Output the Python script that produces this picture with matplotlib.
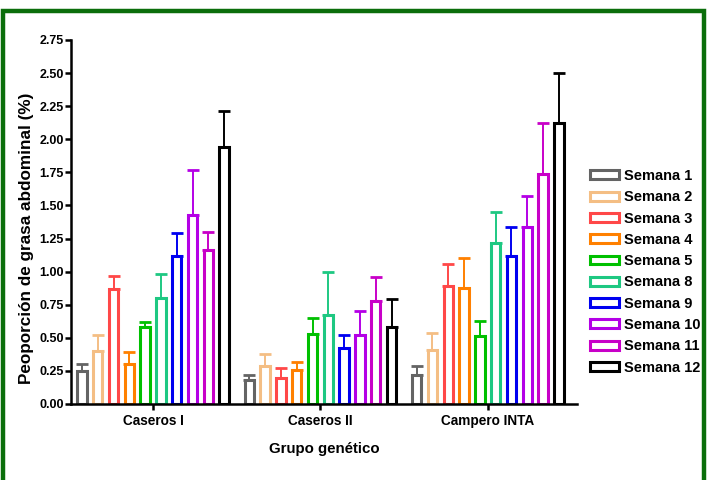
import matplotlib
matplotlib.use('Agg')
import matplotlib.pyplot as plt
import matplotlib as mpl
from matplotlib.patches import Patch, Rectangle

mpl.rcParams['font.family'] = ['Liberation Sans', 'DejaVu Sans']
mpl.rcParams['font.weight'] = 'bold'

groups = ['Caseros I', 'Caseros II', 'Campero INTA']
weeks = ['Semana 1', 'Semana 2', 'Semana 3', 'Semana 4', 'Semana 5',
         'Semana 8', 'Semana 9', 'Semana 10', 'Semana 11', 'Semana 12']
colors = ['#646464', '#F4BE84', '#FF4848', '#FF8000', '#00C000',
          '#1EC882', '#0000F0', '#B400E6', '#C800C8', '#000000']

# mean values per week, one list per group
caseros_1 = [0.25, 0.40, 0.87, 0.30, 0.58, 0.80, 1.12, 1.43, 1.16, 1.94]
caseros_2 = [0.18, 0.29, 0.20, 0.26, 0.53, 0.67, 0.42, 0.52, 0.78, 0.58]
campero = [0.22, 0.41, 0.89, 0.88, 0.51, 1.22, 1.12, 1.34, 1.74, 2.12]

# upper error (SEM)
err_1 = [0.05, 0.12, 0.10, 0.09, 0.04, 0.18, 0.17, 0.34, 0.14, 0.27]
err_2 = [0.04, 0.09, 0.07, 0.06, 0.12, 0.33, 0.10, 0.18, 0.18, 0.21]
err_3 = [0.07, 0.13, 0.17, 0.22, 0.12, 0.23, 0.22, 0.23, 0.38, 0.38]

means = [caseros_1, caseros_2, campero]
errs = [err_1, err_2, err_3]

fig = plt.figure(figsize=(7.08, 4.8), dpi=100)
ax = fig.add_axes([71 / 708, 1 - 404 / 480, (577 - 71) / 708, (404 - 40) / 480])

step = 0.0944
width = 0.056
for k, week in enumerate(weeks):
    xs = [g + (k - 4.5) * step for g in range(len(groups))]
    vals = [m[k] for m in means]
    ups = [e[k] for e in errs]
    ax.bar(xs, vals, width=width, facecolor='white', edgecolor=colors[k],
           linewidth=2.2, zorder=3)
    ax.errorbar(xs, vals, yerr=[[0] * 3, ups], fmt='none', ecolor=colors[k],
                elinewidth=1.4, capsize=4, capthick=2, zorder=2)

ax.set_xlim(-0.49, 2.533)
ax.set_ylim(0, 2.75)
ax.set_yticks([i * 0.25 for i in range(12)])
ax.set_yticklabels(['%.2f' % (i * 0.25) for i in range(12)])
ax.set_xticks(range(3))
ax.set_xticklabels(groups)
ax.tick_params(axis='both', width=1.8, length=4, direction='out')
ax.tick_params(axis='y', pad=1, labelsize=9)
ax.tick_params(axis='x', pad=3, labelsize=9.8)
for side in ['top', 'right']:
    ax.spines[side].set_visible(False)
for side in ['left', 'bottom']:
    ax.spines[side].set_linewidth(1.8)
    ax.spines[side].set_zorder(5)

ax.set_ylabel('Peoporción de grasa abdominal (%)', fontsize=12.3, fontweight='bold', labelpad=4)
ax.yaxis.label.set_y(0.456)
ax.set_xlabel('Grupo genético', fontsize=10.8, fontweight='bold', labelpad=10)

handles = [Patch(facecolor='white', edgecolor=c, linewidth=2.2) for c in colors]
fig.legend(handles, weeks, loc='upper left', bbox_to_anchor=(590 / 708, 1 - 169 / 480),
           frameon=False, fontsize=10.5, handlelength=2.0, handleheight=0.55,
           labelspacing=0.5, handletextpad=0.3, borderpad=0, borderaxespad=0)

# green frame around the figure
fig.patches.append(Rectangle((3 / 708, -0.1), 701 / 708, 1.1 - 10.5 / 480,
                             transform=fig.transFigure, fill=False,
                             edgecolor='#0B6E0B', linewidth=3.2))

fig.savefig('out.png', dpi=100)
